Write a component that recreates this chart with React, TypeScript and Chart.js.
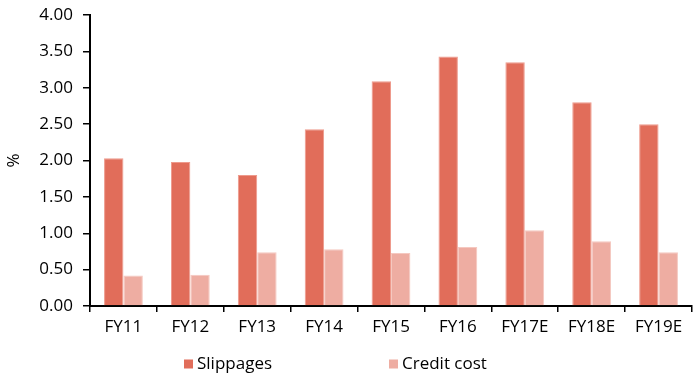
import React, { useEffect, useRef } from "react";
import { Chart, registerables } from "chart.js";

Chart.register(...registerables);

const categories = ["FY11", "FY12", "FY13", "FY14", "FY15", "FY16", "FY17E", "FY18E", "FY19E"];
const slippages = [2.03, 1.98, 1.8, 2.43, 3.09, 3.43, 3.35, 2.8, 2.5];
const creditCost = [0.42, 0.43, 0.74, 0.78, 0.73, 0.81, 1.04, 0.89, 0.74];
const seriesLabels = ["Slippages", "Credit cost"];
const seriesColors = ["#E16D5A", "#EEADA2"];
const seriesEdges = ["#EE9A8C", "#F5C8C0"];
const yTitle = "%";

const FONT = "'Open Sans', sans-serif";
const FONT_SIZE = 17;

// Legend drawn beneath the axis: a filled square followed by the series name.
const bottomLegend = {
  id: "bottomLegend",
  afterDraw(chart: Chart) {
    const { ctx } = chart;
    const starts = [184, 389];
    const y = 364;
    ctx.save();
    ctx.font = `${FONT_SIZE}px ${FONT}`;
    ctx.textBaseline = "middle";
    ctx.textAlign = "left";
    chart.data.datasets.forEach((ds, i) => {
      const x = starts[i];
      ctx.fillStyle = ds.backgroundColor as string;
      ctx.fillRect(x, y - 4.5, 9, 9);
      ctx.fillStyle = "#000";
      ctx.fillText(ds.label as string, x + 13, y);
    });
    ctx.restore();
  },
};

export default function App() {
  const canvasRef = useRef<HTMLCanvasElement | null>(null);

  useEffect(() => {
    if (!canvasRef.current) return;
    const chart = new Chart(canvasRef.current, {
      type: "bar",
      data: {
        labels: categories,
        datasets: [
          {
            label: seriesLabels[0],
            data: slippages,
            backgroundColor: seriesColors[0],
            borderColor: seriesEdges[0],
            borderWidth: 1,
            categoryPercentage: 0.58,
            barPercentage: 1,
          },
          {
            label: seriesLabels[1],
            data: creditCost,
            backgroundColor: seriesColors[1],
            borderColor: seriesEdges[1],
            borderWidth: 1,
            categoryPercentage: 0.58,
            barPercentage: 1,
          },
        ],
      },
      options: {
        animation: false,
        responsive: false,
        maintainAspectRatio: false,
        layout: { padding: { top: 15, right: 1, left: 0, bottom: 0 } },
        plugins: {
          legend: { display: false },
          tooltip: { enabled: false },
        },
        scales: {
          x: {
            grid: {
              display: true,
              drawOnChartArea: false,
              drawTicks: true,
              tickLength: 6,
              color: "#000",
              lineWidth: 1.5,
              offset: true,
            },
            border: { display: true, color: "#000", width: 2 },
            ticks: {
              color: "#000",
              font: { family: FONT, size: FONT_SIZE },
              padding: 5,
              maxRotation: 0,
              autoSkip: false,
            },
            afterFit(scale: any) {
              scale.height = 72;
              scale.paddingLeft = 0;
              scale.paddingRight = 0;
            },
          },
          y: {
            min: 0,
            max: 4,
            grid: {
              display: true,
              drawOnChartArea: false,
              drawTicks: true,
              tickLength: 7,
              color: "#000",
              lineWidth: 1.5,
            },
            border: { display: true, color: "#000", width: 2 },
            ticks: {
              stepSize: 0.5,
              color: "#000",
              font: { family: FONT, size: FONT_SIZE },
              padding: 10,
              callback: (v: any) => Number(v).toFixed(2),
            },
            title: {
              display: true,
              text: yTitle,
              color: "#000",
              font: { family: FONT, size: FONT_SIZE },
              padding: { top: 4, bottom: 0 },
            },
            afterFit(scale: any) {
              scale.width = 90;
              scale.paddingTop = 0;
              scale.paddingBottom = 0;
            },
          },
        },
      },
      plugins: [bottomLegend],
    });
    return () => chart.destroy();
  }, []);

  return (
    <div style={{ position: "fixed", left: 0, top: 0, width: 693, height: 378, background: "#fff" }}>
      <canvas ref={canvasRef} width={693} height={378} style={{ display: "block" }} />
    </div>
  );
}
